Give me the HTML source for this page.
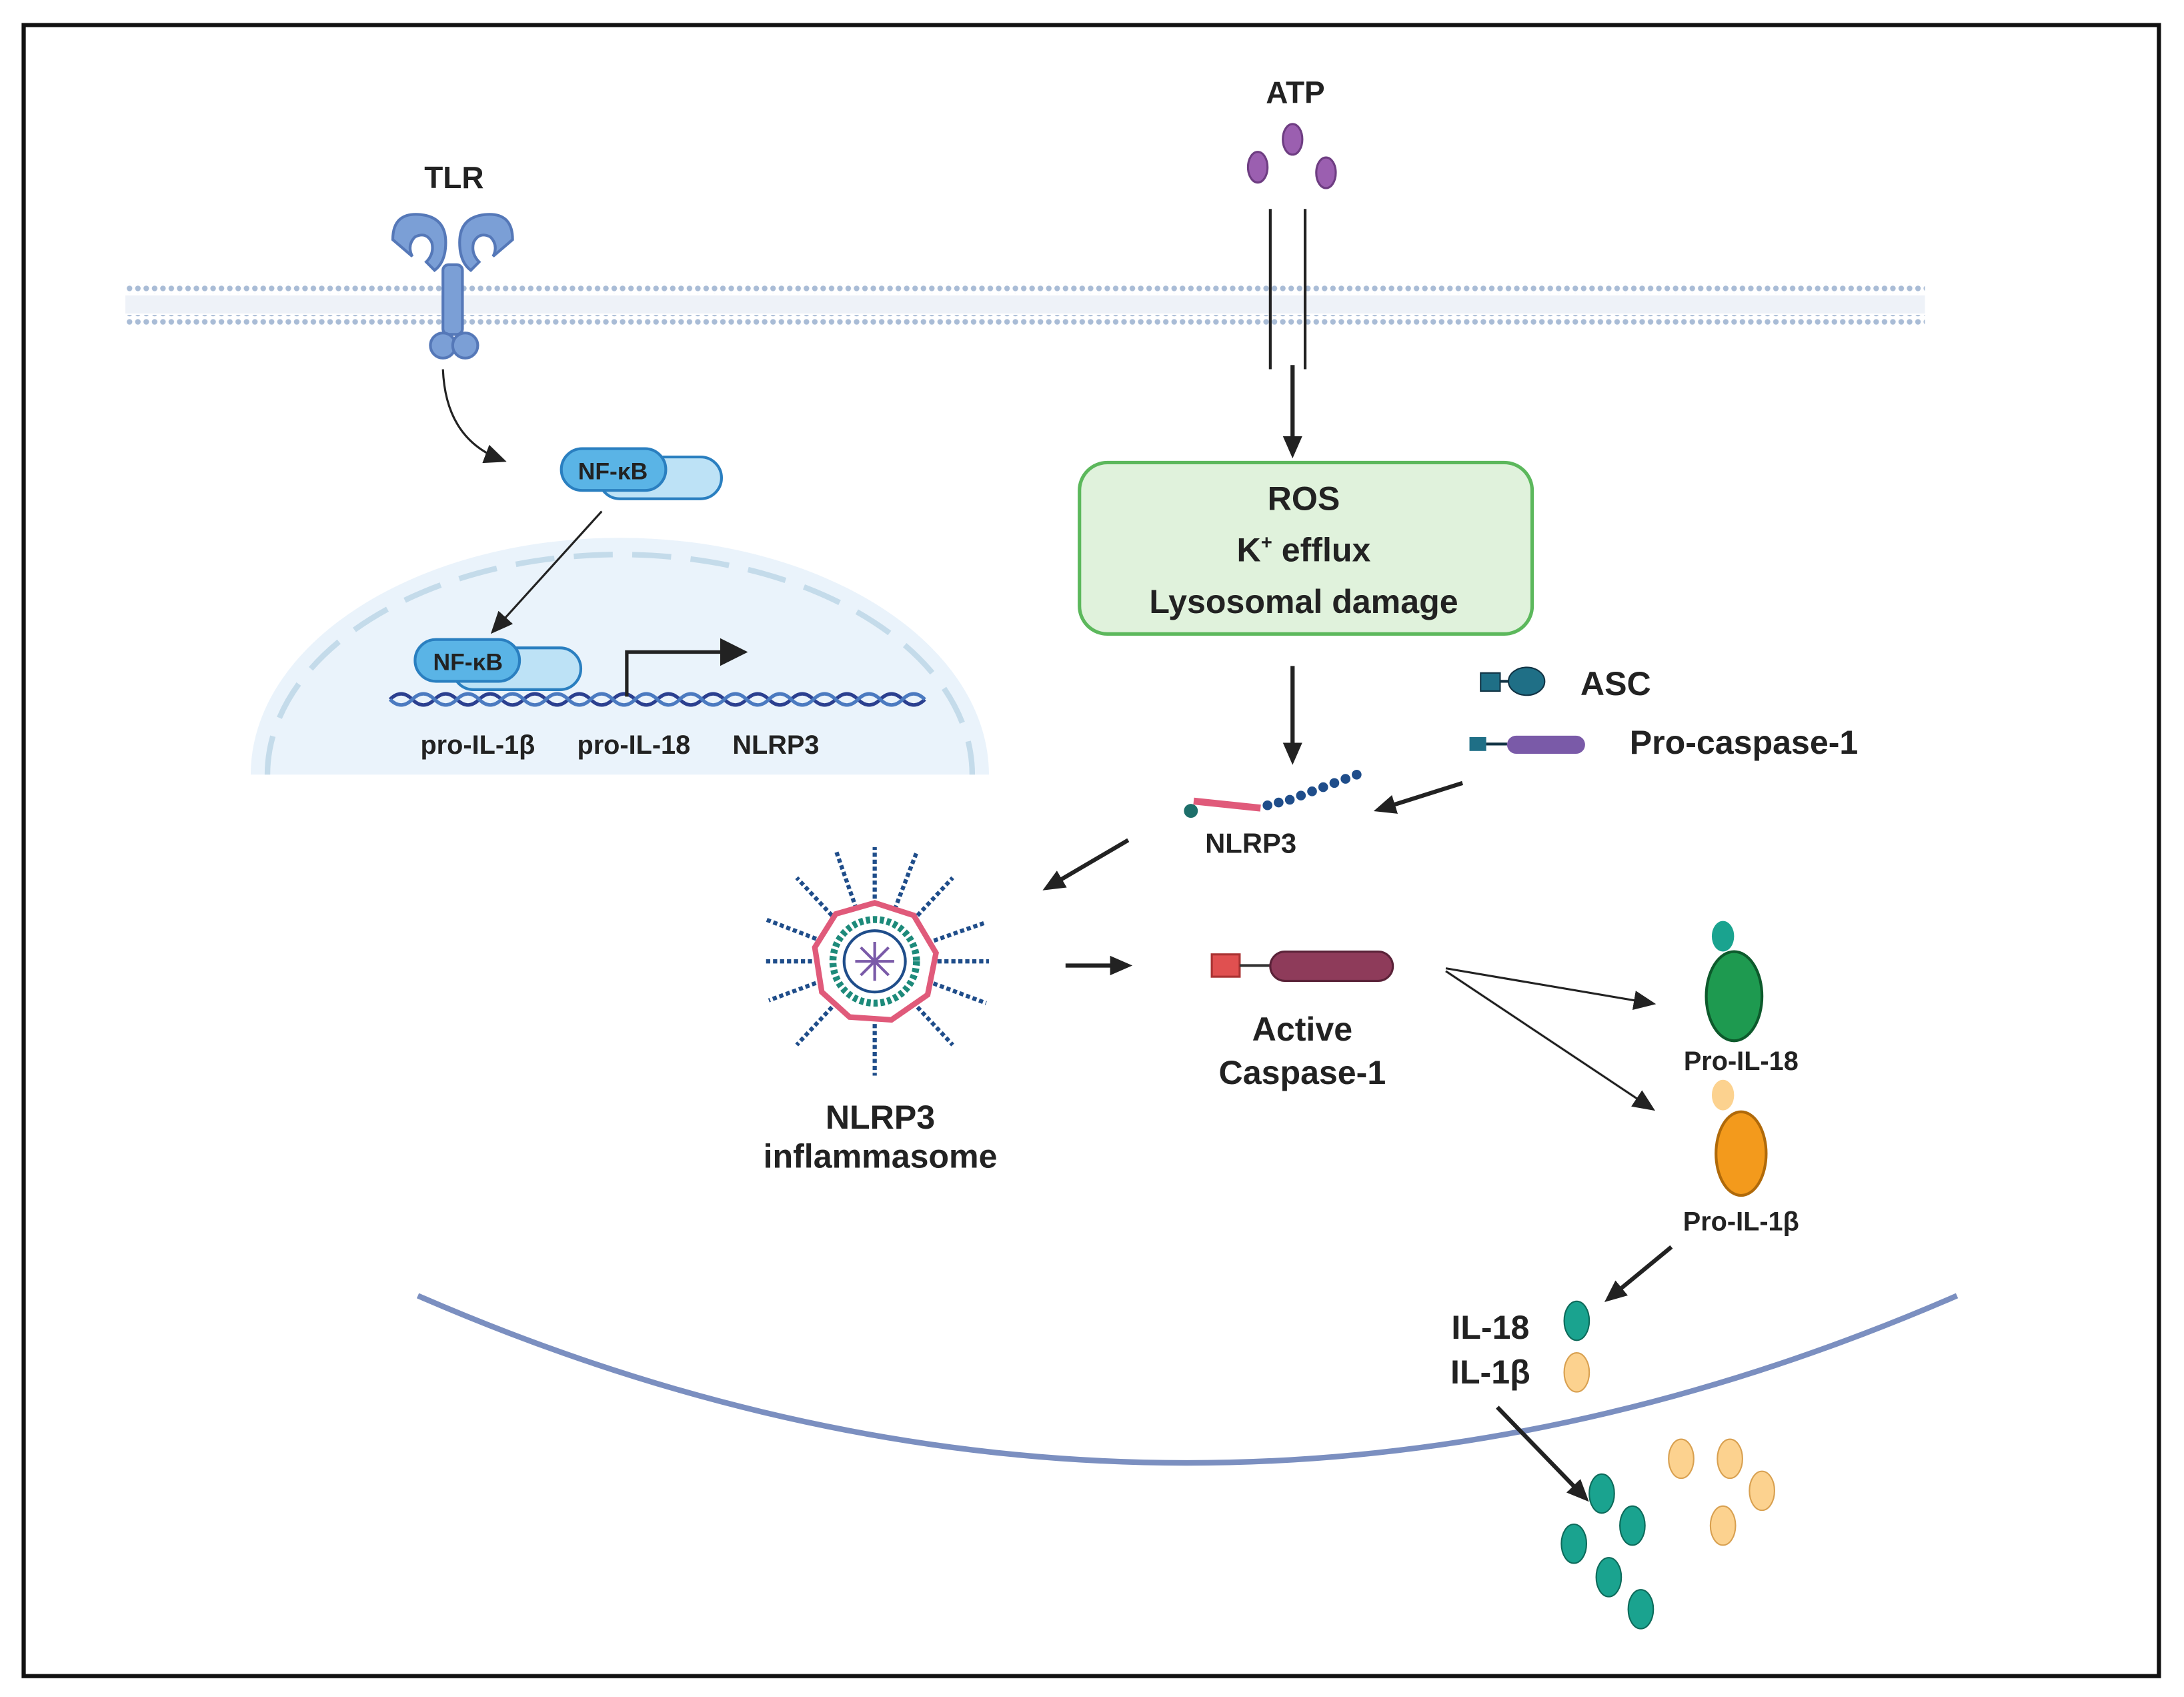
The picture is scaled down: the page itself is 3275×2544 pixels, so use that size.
<!DOCTYPE html>
<html><head><meta charset="utf-8"><style>
html,body{margin:0;padding:0;background:#fff}
svg{display:block}
text{font-family:"Liberation Sans",sans-serif;font-weight:bold;fill:#222;text-anchor:middle}
</style></head><body>
<svg width="3275" height="2544" viewBox="0 0 1568 1218" xmlns="http://www.w3.org/2000/svg">
<defs>
<marker id="a" markerWidth="8" markerHeight="8" refX="6" refY="4" orient="auto" markerUnits="strokeWidth"><path d="M0,0 L8,4 L0,8 z" fill="#222"/></marker>
<marker id="b" markerWidth="16" markerHeight="14" refX="12" refY="7" orient="auto" markerUnits="userSpaceOnUse"><path d="M0,0 L16,7 L0,14 z" fill="#222"/></marker>
<pattern id="mem" width="6" height="6" patternUnits="userSpaceOnUse"><circle cx="3" cy="3" r="2" fill="#a9bcd6"/></pattern>
</defs>
<rect x="17" y="18" width="1533" height="1185" fill="#fff" stroke="#111" stroke-width="3"/>
<rect x="90" y="203" width="1292" height="8" fill="url(#mem)"/>
<rect x="90" y="226" width="1292" height="8" fill="url(#mem)"/>
<rect x="90" y="212" width="1292" height="13" fill="#eef2f8"/>
<path d="M180,556 A265,170 0 0 1 710,556 Z" fill="#eaf3fb"/>
<path d="M192,556 A253,158 0 0 1 698,556" fill="none" stroke="#c4dbea" stroke-width="4" stroke-dasharray="28,14"/>
<g fill="#7b9fd6" stroke="#5578b8" stroke-width="2">
<path d="M282,172 q0,-20 20,-18 q18,2 18,20 q0,14 -8,20 l-6,-6 q6,-6 4,-14 q-4,-8 -12,-4 q-6,6 -2,14 z"/>
<path d="M368,172 q0,-20 -20,-18 q-18,2 -18,20 q0,14 8,20 l6,-6 q-6,-6 -4,-14 q4,-8 12,-4 q6,6 2,14 z"/>
<rect x="318" y="190" width="14" height="50" rx="4"/>
<circle cx="318" cy="248" r="9"/><circle cx="334" cy="248" r="9"/>
</g>
<text x="326" y="135" font-size="22">TLR</text>
<path d="M318,265 Q320,315 360,330" fill="none" stroke="#222" stroke-width="1.5" marker-end="url(#b)"/>
<rect x="430" y="328" width="88" height="30" rx="15" fill="#bde2f6" stroke="#2a7fc0" stroke-width="2"/>
<rect x="403" y="322" width="75" height="30" rx="15" fill="#5ab4e6" stroke="#2a7fc0" stroke-width="2"/>
<text x="440" y="344" font-size="17">NF-κB</text>
<path d="M432,367 L355,452" stroke="#222" stroke-width="1.5" marker-end="url(#b)"/>
<rect x="325" y="465" width="92" height="30" rx="15" fill="#bde2f6" stroke="#2a7fc0" stroke-width="2"/>
<rect x="298" y="459" width="75" height="30" rx="15" fill="#5ab4e6" stroke="#2a7fc0" stroke-width="2"/>
<text x="336" y="481" font-size="17">NF-κB</text>
<path d="M280,502 q8,-8 16,0 t16,0 t16,0 t16,0 t16,0 t16,0 t16,0 t16,0 t16,0 t16,0 t16,0 t16,0 t16,0 t16,0 t16,0 t16,0 t16,0 t16,0 t16,0 t16,0 t16,0 t16,0 t16,0 t16,0" fill="none" stroke="#2b3f8f" stroke-width="2.5"/>
<path d="M280,502 q8,8 16,0 t16,0 t16,0 t16,0 t16,0 t16,0 t16,0 t16,0 t16,0 t16,0 t16,0 t16,0 t16,0 t16,0 t16,0 t16,0 t16,0 t16,0 t16,0 t16,0 t16,0 t16,0 t16,0 t16,0" fill="none" stroke="#4b7ac0" stroke-width="2.5"/>
<path d="M450,500 L450,468 L532,468" fill="none" stroke="#222" stroke-width="2.5" marker-end="url(#a)"/>
<text x="343" y="541" font-size="19">pro-IL-1β</text>
<text x="455" y="541" font-size="19">pro-IL-18</text>
<text x="557" y="541" font-size="19">NLRP3</text>
<text x="930" y="74" font-size="22">ATP</text>
<g fill="#9b5fb0" stroke="#6e3d82" stroke-width="1.5">
<ellipse cx="903" cy="120" rx="7" ry="11"/><ellipse cx="928" cy="100" rx="7" ry="11"/><ellipse cx="952" cy="124" rx="7" ry="11"/></g>
<line x1="912" y1="150" x2="912" y2="265" stroke="#222" stroke-width="2"/>
<line x1="937" y1="150" x2="937" y2="265" stroke="#222" stroke-width="2"/>
<path d="M928,262 L928,325" stroke="#222" stroke-width="3" marker-end="url(#b)"/>
<rect x="775" y="332" width="325" height="123" rx="20" fill="#e0f2dc" stroke="#5cb85c" stroke-width="2.5"/>
<text x="936" y="366" font-size="24">ROS</text>
<text x="936" y="403" font-size="24">K<tspan font-size="14" dy="-9">+</tspan><tspan dy="9"> efflux</tspan></text>
<text x="936" y="440" font-size="24">Lysosomal damage</text>
<path d="M928,478 L928,545" stroke="#222" stroke-width="3" marker-end="url(#b)"/>
<rect x="1063" y="483" width="14" height="13" fill="#1f6f86" stroke="#134" stroke-width="1"/>
<line x1="1077" y1="489" x2="1085" y2="489" stroke="#134" stroke-width="2"/>
<ellipse cx="1096" cy="489" rx="13" ry="10" fill="#1f6f86" stroke="#134"/>
<text x="1160" y="499" font-size="24">ASC</text>
<rect x="1055" y="529" width="12" height="10" fill="#1f6f86"/>
<line x1="1067" y1="534" x2="1082" y2="534" stroke="#134" stroke-width="2"/>
<rect x="1082" y="528" width="56" height="13" rx="6.5" fill="#7a5aa8"/>
<text x="1252" y="541" font-size="24">Pro-caspase-1</text>
<path d="M1050,562 L990,581" stroke="#222" stroke-width="3" marker-end="url(#b)"/>
<circle cx="855" cy="582" r="5" fill="#1d6f6a"/>
<path d="M857,575 L905,580" stroke="#e05a7a" stroke-width="5"/>
<g fill="#1f4d8a"><circle cx="910" cy="578" r="3.5"/><circle cx="918" cy="576" r="3.5"/><circle cx="926" cy="574" r="3.5"/><circle cx="934" cy="571" r="3.5"/><circle cx="942" cy="568" r="3.5"/><circle cx="950" cy="565" r="3.5"/><circle cx="958" cy="562" r="3.5"/><circle cx="966" cy="559" r="3.5"/><circle cx="974" cy="556" r="3.5"/></g>
<text x="898" y="612" font-size="20">NLRP3</text>
<path d="M810,603 L752,637" stroke="#222" stroke-width="3" marker-end="url(#b)"/>
<g stroke="#1f4d8a" stroke-width="3" stroke-dasharray="3,2">
<line x1="628" y1="690" x2="628" y2="608"/><line x1="628" y1="690" x2="628" y2="772"/>
<line x1="628" y1="690" x2="548" y2="690"/><line x1="628" y1="690" x2="710" y2="690"/>
<line x1="628" y1="690" x2="572" y2="630"/><line x1="628" y1="690" x2="684" y2="630"/>
<line x1="628" y1="690" x2="572" y2="750"/><line x1="628" y1="690" x2="684" y2="750"/>
<line x1="628" y1="690" x2="600" y2="610"/><line x1="628" y1="690" x2="658" y2="612"/>
<line x1="628" y1="690" x2="550" y2="660"/><line x1="628" y1="690" x2="708" y2="720"/>
<line x1="628" y1="690" x2="552" y2="718"/><line x1="628" y1="690" x2="708" y2="662"/>
</g>
<polygon points="628,648 656,657 672,684 666,714 640,732 610,730 590,712 585,680 600,656" fill="#fff" stroke="#e05a7a" stroke-width="4"/>
<circle cx="628" cy="690" r="30" fill="#fff" stroke="#1d8a7a" stroke-width="5" stroke-dasharray="3,2"/>
<circle cx="628" cy="690" r="22" fill="#fff" stroke="#1f4d8a" stroke-width="2"/>
<g stroke="#7a5aa8" stroke-width="2"><line x1="614" y1="690" x2="642" y2="690"/><line x1="628" y1="676" x2="628" y2="704"/><line x1="618" y1="680" x2="638" y2="700"/><line x1="638" y1="680" x2="618" y2="700"/></g>
<text x="632" y="810" font-size="24">NLRP3</text>
<text x="632" y="838" font-size="24">inflammasome</text>
<path d="M765,693 L809,693" stroke="#222" stroke-width="3" marker-end="url(#b)"/>
<rect x="870" y="685" width="20" height="16" fill="#e05050" stroke="#a33" stroke-width="1.5"/>
<line x1="890" y1="693" x2="912" y2="693" stroke="#333" stroke-width="2"/>
<rect x="912" y="683" width="88" height="21" rx="10.5" fill="#8e3b5a" stroke="#5a2238" stroke-width="1.5"/>
<text x="935" y="747" font-size="24">Active</text>
<text x="935" y="778" font-size="24">Caspase-1</text>
<path d="M1038,695 L1185,720" stroke="#222" stroke-width="1.5" marker-end="url(#b)"/>
<path d="M1038,697 L1185,795" stroke="#222" stroke-width="1.5" marker-end="url(#b)"/>
<ellipse cx="1237" cy="672" rx="8" ry="11" fill="#1aa38f"/>
<ellipse cx="1245" cy="715" rx="20" ry="32" fill="#1e9a50" stroke="#0d5a2c" stroke-width="2"/>
<text x="1250" y="768" font-size="19">Pro-IL-18</text>
<ellipse cx="1237" cy="786" rx="8" ry="11" fill="#fcd28f"/>
<ellipse cx="1250" cy="828" rx="18" ry="30" fill="#f39a1c" stroke="#b06a0a" stroke-width="2"/>
<text x="1250" y="883" font-size="19">Pro-IL-1β</text>
<path d="M1200,895 L1155,932" stroke="#222" stroke-width="3" marker-end="url(#b)"/>
<path d="M300,930 Q852,1170 1405,930" fill="none" stroke="#7b8fc0" stroke-width="4"/>
<text x="1070" y="961" font-size="24">IL-18</text>
<text x="1070" y="993" font-size="24">IL-1β</text>
<ellipse cx="1132" cy="948" rx="9" ry="14" fill="#1aa38f" stroke="#0d6a5a"/>
<ellipse cx="1132" cy="985" rx="9" ry="14" fill="#fcd28f" stroke="#d8a050"/>
<path d="M1075,1010 L1138,1075" stroke="#222" stroke-width="3" marker-end="url(#b)"/>
<g fill="#1aa38f" stroke="#0d6a5a">
<ellipse cx="1150" cy="1072" rx="9" ry="14"/><ellipse cx="1130" cy="1108" rx="9" ry="14"/><ellipse cx="1172" cy="1095" rx="9" ry="14"/><ellipse cx="1155" cy="1132" rx="9" ry="14"/><ellipse cx="1178" cy="1155" rx="9" ry="14"/></g>
<g fill="#fcd28f" stroke="#d8a050">
<ellipse cx="1207" cy="1047" rx="9" ry="14"/><ellipse cx="1242" cy="1047" rx="9" ry="14"/><ellipse cx="1265" cy="1070" rx="9" ry="14"/><ellipse cx="1237" cy="1095" rx="9" ry="14"/></g>
</svg>
</body></html>
